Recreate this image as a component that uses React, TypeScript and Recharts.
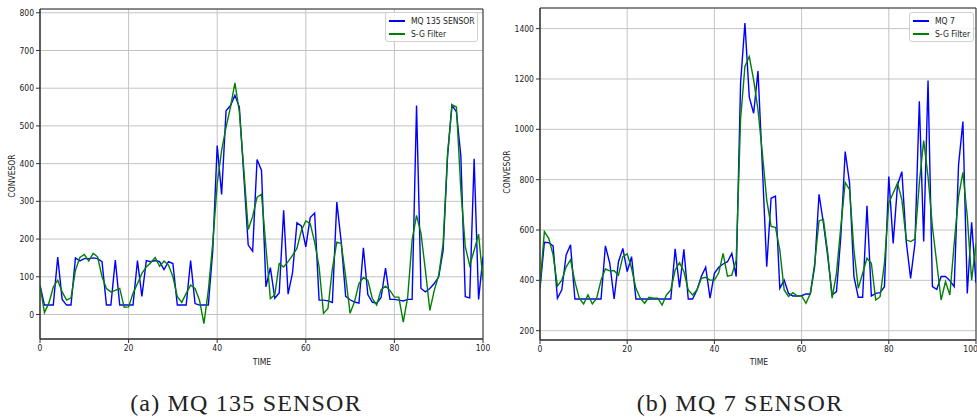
import React from 'react';
import { LineChart, Line, XAxis, YAxis, CartesianGrid, ReferenceArea } from 'recharts';

const time: number[] = Array.from({ length: 101 }, (_, i) => i);

const mq135Sensor: number[] = [
  78, 25, 25, 25, 152, 40, 25, 25, 150, 142,
  148, 148, 150, 148, 140, 25, 25, 144, 25, 25,
  25, 25, 143, 48, 143, 140, 143, 140, 119, 140,
  135, 25, 25, 25, 143, 29, 25, 25, 25, 170,
  448, 318, 540, 554, 581, 550, 370, 184, 168, 411,
  382, 73, 124, 43, 57, 276, 54, 110, 243, 235,
  179, 257, 269, 38, 38, 36, 32, 298, 192, 48,
  39, 33, 30, 177, 53, 33, 30, 45, 123, 40,
  40, 38, 36, 40, 40, 554, 69, 60, 69, 82,
  100, 170, 420, 555, 537, 420, 47, 44, 413, 40,
  153,
];

const mq135Filter: number[] = [
  78, 5, 30, 73, 91, 60, 38, 44, 117, 151,
  159, 142, 162, 153, 100, 69, 60, 64, 69, 19,
  20, 56, 82, 109, 126, 137, 151, 128, 142, 131,
  100, 47, 32, 56, 78, 69, 38, -24, 64, 190,
  347, 435, 497, 550, 614, 537, 385, 225, 260, 311,
  319, 179, 42, 52, 135, 126, 140, 157, 175, 223,
  248, 241, 192, 126, 3, 16, 122, 192, 188, 100,
  3, 34, 82, 98, 91, 43, 25, 66, 75, 64,
  46, 46, -20, 46, 197, 263, 215, 117, 11, 64,
  104, 188, 426, 556, 550, 330, 180, 130, 170, 213,
  90,
];

const mq7Sensor: number[] = [
  368, 551, 550, 537, 329, 362, 501, 541, 326, 326,
  326, 326, 326, 326, 326, 537, 468, 326, 474, 527,
  435, 494, 326, 326, 326, 326, 326, 326, 326, 326,
  326, 525, 372, 523, 326, 326, 362, 415, 452, 329,
  428, 452, 465, 474, 507, 415, 1183, 1422, 1128, 1064,
  1232, 852, 454, 726, 735, 368, 401, 348, 338, 338,
  339, 346, 346, 454, 742, 627, 494, 342, 355, 574,
  912, 786, 415, 333, 333, 696, 338, 348, 351, 375,
  812, 547, 779, 832, 554, 408, 547, 1111, 554, 1194,
  375, 364, 415, 415, 399, 375, 859, 1031, 348, 631,
  390,
];

const mq7Filter: number[] = [
  375, 594, 567, 501, 378, 401, 454, 481, 395, 329,
  306, 342, 306, 329, 401, 445, 438, 438, 421, 494,
  505, 448, 368, 329, 309, 333, 329, 329, 302, 342,
  362, 441, 470, 435, 362, 342, 362, 408, 412, 401,
  401, 430, 507, 417, 421, 480, 1040, 1250, 1289, 1196,
  1077, 905, 720, 614, 611, 521, 362, 336, 351, 338,
  338, 309, 348, 467, 637, 642, 507, 329, 428, 614,
  789, 760, 521, 368, 428, 488, 468, 322, 335, 468,
  707, 747, 786, 720, 561, 554, 564, 786, 955, 812,
  614, 468, 322, 395, 342, 547, 733, 829, 653, 401,
  547,
];

const xTicks: number[] = [0, 20, 40, 60, 80, 100];
const leftYTicks: number[] = [0, 100, 200, 300, 400, 500, 600, 700, 800];
const rightYTicks: number[] = [200, 400, 600, 800, 1000, 1200, 1400];

const leftData = time.map((t, i) => ({ t, sensor: mq135Sensor[i], filter: mq135Filter[i] }));
const rightData = time.map((t, i) => ({ t, sensor: mq7Sensor[i], filter: mq7Filter[i] }));

const BLUE = '#0000ff';
const GREEN = '#008000';
const AXIS = '#333333';
const GRID = '#c4c4c4';
const FONT = '"DejaVu Sans Condensed", "DejaVu Sans", sans-serif';
const tickStyle = { fill: '#222', fontSize: 8.5, fontFamily: FONT };

const Legend = ({ left, top, width, label }: { left: number; top: number; width: number; label: string }) => (
  <div
    style={{
      position: 'absolute', left, top, width, height: 30, boxSizing: 'border-box',
      border: '1px solid #d0d0d0', borderRadius: 3, background: 'rgba(255,255,255,0.85)',
      fontFamily: FONT, fontSize: 8.5, color: '#222',
    }}
  >
    <div style={{ position: 'absolute', left: 3, top: 7, width: 16, height: 1.5, background: BLUE }} />
    <div style={{ position: 'absolute', left: 25, top: 2, lineHeight: '12px', whiteSpace: 'nowrap' }}>{label}</div>
    <div style={{ position: 'absolute', left: 3, top: 20, width: 16, height: 1.5, background: GREEN }} />
    <div style={{ position: 'absolute', left: 25, top: 15, lineHeight: '12px', whiteSpace: 'nowrap' }}>S-G Filter</div>
  </div>
);

const TextAt = ({ x, y, text, rotate = 0, size = 8.5, family = FONT, spacing = 0 }: any) => (
  <div
    style={{
      position: 'absolute', left: x, top: y, transform: `translate(-50%, -50%) rotate(${rotate}deg)`,
      fontFamily: family, fontSize: size, color: '#222', whiteSpace: 'nowrap', letterSpacing: spacing,
      lineHeight: 1,
    }}
  >
    {text}
  </div>
);

export default function App() {
  return (
    <div style={{ position: 'absolute', left: 0, top: 0, width: 977, height: 417, background: '#fff', overflow: 'hidden' }}>
      <div style={{ position: 'absolute', left: 0, top: 0 }}>
        <LineChart width={490} height={417} data={leftData} margin={{ top: 9, right: 7, bottom: 58, left: 8 }}>
          <CartesianGrid stroke={GRID} strokeWidth={1} />
          <XAxis
            dataKey="t" type="number" domain={[0, 100]} ticks={xTicks} allowDataOverflow
            height={20} tickSize={4} tickMargin={2} stroke={AXIS} tick={tickStyle}
          />
          <YAxis
            type="number" domain={[-65, 810]} ticks={leftYTicks} allowDataOverflow
            width={32} tickSize={4} tickMargin={2} stroke={AXIS} tick={tickStyle}
          />
          <ReferenceArea x1={0} x2={100} y1={-65} y2={810} fill="none" stroke={AXIS} strokeWidth={1} ifOverflow="visible" />
          <Line type="linear" dataKey="sensor" stroke={BLUE} strokeWidth={1.4} dot={false} isAnimationActive={false} />
          <Line type="linear" dataKey="filter" stroke={GREEN} strokeWidth={1.4} dot={false} isAnimationActive={false} />
        </LineChart>
      </div>
      <div style={{ position: 'absolute', left: 490, top: 0 }}>
        <LineChart width={487} height={417} data={rightData} margin={{ top: 8, right: 1, bottom: 57, left: 10 }}>
          <CartesianGrid stroke={GRID} strokeWidth={1} />
          <XAxis
            dataKey="t" type="number" domain={[0, 100]} ticks={xTicks} allowDataOverflow
            height={20} tickSize={4} tickMargin={2} stroke={AXIS} tick={tickStyle}
          />
          <YAxis
            type="number" domain={[163, 1482]} ticks={rightYTicks} allowDataOverflow
            width={40} tickSize={4} tickMargin={2} stroke={AXIS} tick={tickStyle}
          />
          <ReferenceArea x1={0} x2={100} y1={163} y2={1482} fill="none" stroke={AXIS} strokeWidth={1} ifOverflow="visible" />
          <Line type="linear" dataKey="sensor" stroke={BLUE} strokeWidth={1.4} dot={false} isAnimationActive={false} />
          <Line type="linear" dataKey="filter" stroke={GREEN} strokeWidth={1.4} dot={false} isAnimationActive={false} />
        </LineChart>
      </div>

      <Legend left={385} top={12} width={93} label="MQ 135 SENSOR" />
      <Legend left={909} top={12} width={65} label="MQ 7" />

      <TextAt x={12} y={176} text="CONVESOR" rotate={-90} />
      <TextAt x={507} y={172} text="CONVESOR" rotate={-90} />
      <TextAt x={262} y={362} text="TIME" />
      <TextAt x={759} y={362} text="TIME" />

      <TextAt x={246} y={403} text="(a) MQ 135 SENSOR" size={24} family='"Liberation Serif", serif' spacing={1.2} />
      <TextAt x={740} y={403} text="(b) MQ 7 SENSOR" size={24} family='"Liberation Serif", serif' spacing={1.2} />
    </div>
  );
}
